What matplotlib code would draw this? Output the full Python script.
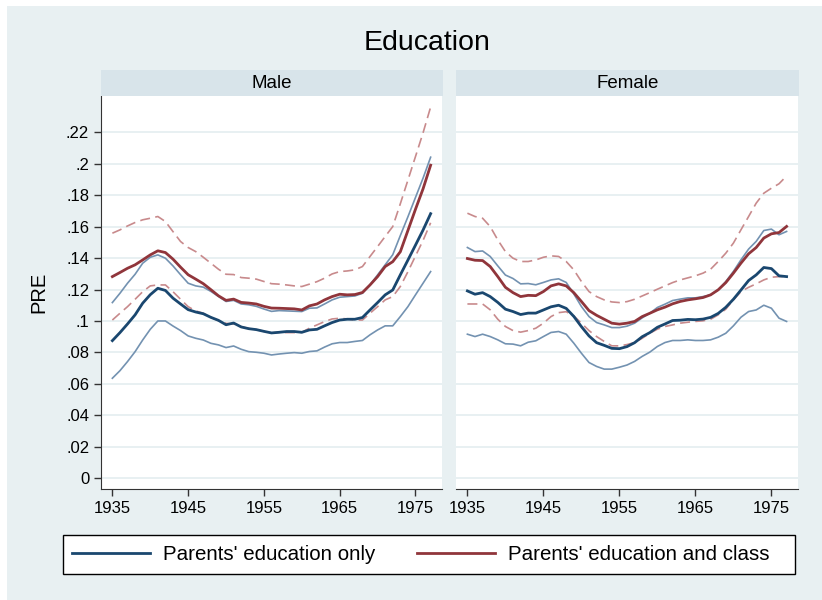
import matplotlib
matplotlib.use("Agg")
from matplotlib import pyplot as plt
from matplotlib.lines import Line2D
from matplotlib.patches import Rectangle
from matplotlib.ticker import FuncFormatter
import numpy as np

plt.rcParams['font.family'] = ['Liberation Sans', 'DejaVu Sans']

years = np.arange(1935, 1978)

# Male: parents' education only (estimate, upper, lower)
m_edu = [.0875, .0926, .0981, .1039, .1113, .1167, .1208, .1194, .1145, .1108,
         .1072, .1057, .1046, .1023, .1004, .0976, .0987, .0962, .0951, .0945,
         .0934, .0924, .0928, .0933, .0933, .0928, .0943, .0947, .0969, .0990,
         .1006, .1011, .1011, .1022, .1070, .1117, .1166, .1197, .1293, .1387,
         .1482, .1578, .1682]
m_edu_hi = [.1117, .1176, .1240, .1297, .1367, .1405, .1420, .1399, .1350, .1294,
            .1240, .1223, .1215, .1188, .1156, .1124, .1131, .1108, .1103, .1093,
            .1076, .1061, .1066, .1064, .1062, .1060, .1081, .1083, .1108, .1134,
            .1151, .1155, .1159, .1176, .1229, .1293, .1357, .1421, .1543, .1662,
            .1785, .1908, .2041]
m_edu_lo = [.0636, .0684, .0742, .0805, .0879, .0947, .1000, .1000, .0968, .0939,
            .0905, .0890, .0879, .0858, .0848, .0831, .0841, .0820, .0805, .0801,
            .0795, .0784, .0790, .0795, .0799, .0795, .0806, .0810, .0834, .0855,
            .0863, .0863, .0870, .0876, .0912, .0943, .0969, .0969, .1028, .1091,
            .1166, .1240, .1314]
# Male: parents' education and class
m_cls = [.1282, .1308, .1335, .1357, .1388, .1420, .1446, .1435, .1393, .1342,
         .1294, .1266, .1237, .1199, .1160, .1131, .1139, .1118, .1114, .1108,
         .1093, .1082, .1081, .1079, .1077, .1070, .1096, .1108, .1134, .1155,
         .1170, .1166, .1168, .1181, .1229, .1282, .1346, .1377, .1440, .1575,
         .1710, .1840, .1990]
m_cls_hi = [.1558, .1579, .1604, .1626, .1643, .1653, .1664, .1632, .1568, .1505,
            .1467, .1441, .1405, .1367, .1329, .1297, .1295, .1276, .1272, .1266,
            .1251, .1237, .1234, .1229, .1223, .1219, .1234, .1250, .1272, .1299,
            .1314, .1318, .1325, .1346, .1410, .1473, .1537, .1600, .1745, .1895,
            .2045, .2196, .2360]
m_cls_lo = [.1006, .1049, .1091, .1138, .1186, .1223, .1229, .1229, .1186, .1138,
            .1091, .1064, .1049, .1023, .1002, .0985, .0981, .0964, .0952, .0945,
            .0934, .0924, .0928, .0926, .0926, .0928, .0954, .0975, .0996, .1013,
            .1017, .1013, .1006, .1006, .1049, .1091, .1134, .1155, .1219, .1313,
            .1413, .1512, .1624]

# Female: parents' education only
f_edu = [.1191, .1170, .1180, .1155, .1118, .1075, .1060, .1041, .1050, .1050,
         .1070, .1090, .1100, .1080, .1029, .0964, .0905, .0862, .0845, .0826,
         .0824, .0837, .0862, .0900, .0926, .0960, .0981, .1003, .1005, .1010,
         .1008, .1012, .1023, .1048, .1087, .1138, .1197, .1257, .1293, .1340,
         .1333, .1287, .1282]
f_edu_hi = [.1467, .1441, .1445, .1410, .1350, .1292, .1270, .1236, .1238, .1230,
            .1245, .1261, .1268, .1245, .1172, .1092, .1028, .0990, .0975, .0958,
            .0958, .0967, .0986, .1020, .1049, .1086, .1107, .1130, .1139, .1147,
            .1147, .1155, .1166, .1198, .1251, .1315, .1389, .1457, .1506, .1575,
            .1584, .1548, .1569]
f_edu_lo = [.0916, .0901, .0916, .0901, .0880, .0855, .0853, .0842, .0865, .0874,
            .0901, .0927, .0933, .0916, .0859, .0795, .0736, .0711, .0694, .0694,
            .0706, .0720, .0743, .0775, .0802, .0838, .0863, .0876, .0876, .0880,
            .0876, .0876, .0880, .0897, .0922, .0969, .1024, .1060, .1070, .1100,
            .1081, .1018, .0997]
# Female: parents' education and class
f_cls = [.1397, .1386, .1384, .1346, .1282, .1214, .1180, .1155, .1163, .1161,
         .1187, .1223, .1236, .1223, .1180, .1124, .1066, .1036, .1011, .0986,
         .0980, .0986, .0997, .1028, .1049, .1071, .1088, .1109, .1124, .1134,
         .1141, .1149, .1166, .1198, .1244, .1304, .1368, .1427, .1467, .1527,
         .1554, .1562, .1601]
f_cls_hi = [.1685, .1664, .1653, .1600, .1515, .1441, .1399, .1378, .1378, .1388,
            .1405, .1414, .1410, .1378, .1325, .1251, .1187, .1155, .1134, .1121,
            .1117, .1123, .1138, .1159, .1180, .1202, .1223, .1244, .1261, .1274,
            .1287, .1304, .1329, .1378, .1431, .1495, .1580, .1664, .1749, .1812,
            .1844, .1872, .1922]
f_cls_lo = [.1108, .1108, .1108, .1071, .1011, .0965, .0939, .0929, .0939, .0954,
            .0986, .1028, .1053, .1059, .1032, .0986, .0939, .0901, .0870, .0842,
            .0842, .0850, .0863, .0890, .0922, .0948, .0965, .0975, .0986, .0992,
            .0997, .1001, .1011, .1039, .1075, .1134, .1187, .1214, .1236, .1261,
            .1278, .1282, .1282]

panels = ["Male", "Female"]
labels = ["Parents' education only", "Parents' education and class"]
yticks = np.arange(0, 0.221, 0.02)
xticks = [1935, 1945, 1955, 1965, 1975]

BG = '#E8F0F2'
STRIP = '#D8E4EA'
NAVY = '#1A476F'
MAROON = '#90353B'
LIGHTBLUE = '#7392B1'
LIGHTRED = '#C88A8C'
AXC = '#333333'

W, H = 822, 600
fig = plt.figure(figsize=(W / 100, H / 100), dpi=100, facecolor='white')
fig.patches.append(Rectangle((7 / W, 0), 1 - 7 / W, 1 - 6 / H, transform=fig.transFigure,
                             facecolor=BG, edgecolor='none', zorder=-10))


def fx(px):
    return px / W


def fy(py):
    return 1 - py / H


def ytick_fmt(v, pos):
    if abs(v) < 1e-9:
        return "0"
    s = ("%.2f" % v).rstrip('0')
    return s.lstrip('0')


data = [(m_edu, m_edu_hi, m_edu_lo, m_cls, m_cls_hi, m_cls_lo),
        (f_edu, f_edu_hi, f_edu_lo, f_cls, f_cls_hi, f_cls_lo)]
lefts = [101, 456]
rights = [442, 798]
top, bottom = 96, 489

for i, name in enumerate(panels):
    l, r = lefts[i], rights[i]
    ax = fig.add_axes([fx(l), fy(bottom), fx(r - l), (bottom - top) / H])
    ax.set_facecolor('white')
    edu, edu_hi, edu_lo, cls, cls_hi, cls_lo = data[i]

    ax.plot(years, edu_hi, color=LIGHTBLUE, lw=1.2)
    ax.plot(years, edu_lo, color=LIGHTBLUE, lw=1.2)
    ax.plot(years, cls_hi, color=LIGHTRED, lw=1.2, dashes=(6, 3.2))
    ax.plot(years, cls_lo, color=LIGHTRED, lw=1.2, dashes=(6, 3.2))
    ax.plot(years, edu, color=NAVY, lw=2.0)
    ax.plot(years, cls, color=MAROON, lw=2.0)

    ax.set_xlim(1933.5, 1978.5)
    ax.set_ylim(-0.0068, 0.243)
    ax.set_yticks(yticks)
    ax.set_xticks(xticks)
    ax.grid(axis='y', color=BG, lw=1.4, zorder=0)
    ax.set_axisbelow(True)
    for s in ['top', 'right']:
        ax.spines[s].set_visible(False)
    ax.spines['bottom'].set_color(AXC)
    ax.spines['left'].set_color(AXC)
    ax.tick_params(axis='both', direction='out', length=5, width=1, color=AXC,
                   labelsize=12, labelcolor='black')
    ax.yaxis.set_major_formatter(FuncFormatter(ytick_fmt))
    if i == 1:
        ax.spines['left'].set_visible(False)
        ax.tick_params(axis='y', left=False, labelleft=False)
    else:
        ax.set_ylabel("PRE", fontsize=14.5, labelpad=13)

    # strip header
    sax = fig.add_axes([fx(l), fy(96), fx(r - l + 1), 26 / H])
    sax.set_facecolor(STRIP)
    sax.set_xticks([])
    sax.set_yticks([])
    for s in sax.spines.values():
        s.set_visible(False)
    sax.text(0.5, 0.5, name, ha='center', va='center', fontsize=13.5,
             transform=sax.transAxes)

fig.text(fx(427), fy(43), "Education", ha='center', va='center', fontsize=20.5)

# legend frame spanning the width, entries placed from the left
fig.patches.append(Rectangle((fx(63), fy(574)), fx(795 - 63), 39 / H,
                             transform=fig.transFigure, facecolor='white',
                             edgecolor='black', lw=1.0, zorder=1))
handles = [Line2D([], [], color=NAVY, lw=2.0), Line2D([], [], color=MAROON, lw=2.0)]
fig.legend(handles, labels, loc='center left', ncol=2,
           bbox_to_anchor=(fx(72), fy(554.5)),
           fontsize=14.8, handlelength=3.79, handletextpad=0.63,
           columnspacing=2.04, frameon=False, borderaxespad=0, borderpad=0)

fig.savefig("out.png", dpi=100, facecolor=fig.get_facecolor())
